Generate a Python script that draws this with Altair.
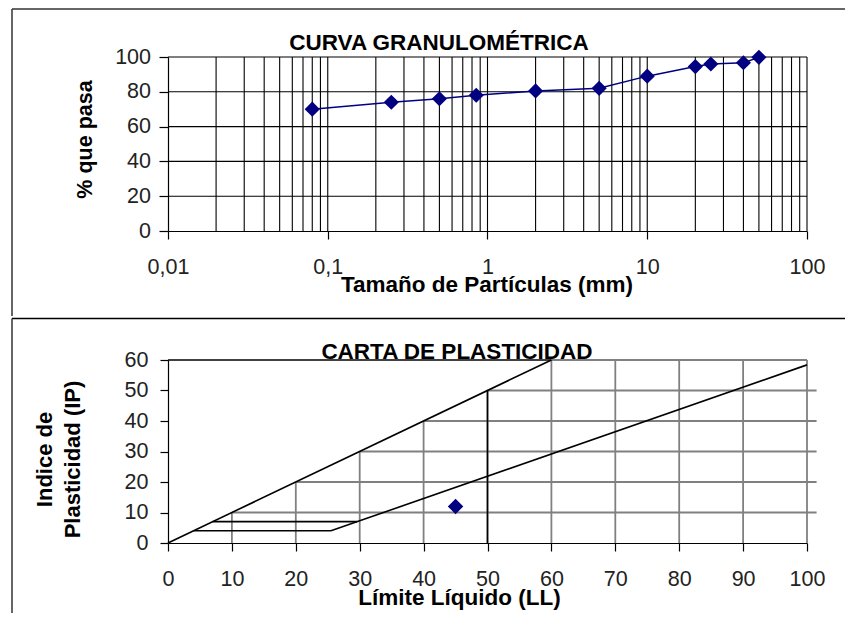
import altair as alt
import pandas as pd

# ---------------- data: curva granulométrica ----------------
SIZE_MM = [0.08, 0.25, 0.5, 0.85, 2, 5, 10, 20, 25, 40, 50]
PASS_PCT = [70, 74, 76, 78, 80.5, 82, 89, 94.5, 96, 96.7, 99.8]
TOP_X_TICKS = [0.01, 0.1, 1, 10, 100]
TOP_Y_TICKS = [0, 20, 40, 60, 80, 100]
TOP_DECADES = [0.01, 0.1, 1, 10]
TOP_MULTS = [1, 2, 3, 4, 5, 6, 7, 8, 9]
TOP_GRID_Y = [20, 40, 60, 80, 100]

# ---------------- data: carta de plasticidad ----------------
LL_SAMPLE = [45]
IP_SAMPLE = [12]
BOT_X_TICKS = [0, 10, 20, 30, 40, 50, 60, 70, 80, 90, 100]
BOT_Y_TICKS = [0, 10, 20, 30, 40, 50, 60]
# chart reference lines: (LL1, IP1) -> (LL2, IP2)
SEG_LL1 = [0, 25.5, 4, 7, 50, 0]
SEG_IP1 = [0, 4, 4, 7, 0, 60]
SEG_LL2 = [60, 100, 25.5, 29.6, 50, 60]
SEG_IP2 = [60, 58.4, 4, 7, 50, 60]
BOT_GRID_LL = [10, 20, 30, 40, 50, 60, 70, 80, 90, 100]
BOT_GRID_IP = [10, 20, 30, 40, 50, 60]

TITLE_TOP = "CURVA GRANULOMÉTRICA"
TITLE_BOT = "CARTA DE PLASTICIDAD"

FONT = "Liberation Sans"
NAVY = "#000080"
LBL = "#222222"

W1, H1 = 639, 174
W2, H2 = 639, 183

# ============ top chart ============
xs_top = alt.Scale(type="log", domain=[0.01, 100], nice=False)
ys_top = alt.Scale(domain=[0, 100], nice=False)

x_axis_top = alt.Axis(
    values=TOP_X_TICKS, labelExpr="replace(toString(datum.value), '.', ',')",
    grid=False, domainColor="black", domainWidth=1.2, tickColor="black",
    tickWidth=1.2, tickSize=8, labelFont=FONT, labelFontSize=21.5,
    labelColor=LBL, labelPadding=17.5, labelFlush=False, labelOverlap=False,
    title="Tamaño de Partículas (mm)", titleFont=FONT, titleFontSize=22.5,
    titleFontWeight="bold", titleColor="black", titleX=318.5, titleY=60,
    titleBaseline="alphabetic", titleAlign="center")
y_axis_top = alt.Axis(
    values=TOP_Y_TICKS, grid=False, domainColor="black", domainWidth=1.2,
    tickColor="black", tickWidth=1.2, tickSize=9, labelFont=FONT,
    labelFontSize=21.5, labelColor=LBL, labelPadding=8.5, labelFlush=False,
    labelOverlap=False, title="% que pasa", titleFont=FONT, titleFontSize=21.5,
    titleFontWeight="bold", titleColor="black", titleX=-77, titleY=82,
    titleAngle=270, titleBaseline="alphabetic", titleAlign="center")

grid_x_vals = [d * m for d in TOP_DECADES for m in TOP_MULTS][1:] + [100]
gv_top = alt.Chart(pd.DataFrame({"v": grid_x_vals})).mark_rule(
    color="black", strokeWidth=1.1).encode(
    x=alt.X("v:Q", scale=xs_top, axis=x_axis_top), y=alt.value(0), y2=alt.value(H1))
gh_top = alt.Chart(pd.DataFrame({"v": TOP_GRID_Y})).mark_rule(
    color="black", strokeWidth=1.1).encode(
    y=alt.Y("v:Q", scale=ys_top, axis=y_axis_top), x=alt.value(0), x2=alt.value(W1))

df_top = pd.DataFrame({"size": SIZE_MM, "pct": PASS_PCT})
line_top = alt.Chart(df_top).mark_line(color=NAVY, strokeWidth=1.5).encode(
    x=alt.X("size:Q", scale=xs_top, axis=x_axis_top),
    y=alt.Y("pct:Q", scale=ys_top, axis=y_axis_top))
pts_top = alt.Chart(df_top).mark_point(
    shape="diamond", filled=True, size=230, color=NAVY, opacity=1).encode(
    x=alt.X("size:Q", scale=xs_top, axis=x_axis_top),
    y=alt.Y("pct:Q", scale=ys_top, axis=y_axis_top))

title_top = alt.Chart(pd.DataFrame({"t": [TITLE_TOP]})).mark_text(
    font=FONT, fontSize=22.5, fontWeight="bold", align="center",
    baseline="alphabetic", color="black").encode(
    text="t:N", x=alt.value(271), y=alt.value(-7))

frame_df = pd.DataFrame({"k": [0]})
frame_top_l = alt.Chart(frame_df).mark_rule(color="#333333", strokeWidth=1.5).encode(
    x=alt.value(-156), y=alt.value(-48), y2=alt.value(259))
frame_top_t = alt.Chart(frame_df).mark_rule(color="#333333", strokeWidth=1.5).encode(
    x=alt.value(-156), x2=alt.value(677), y=alt.value(-48))

top = alt.layer(gv_top, gh_top, line_top, pts_top, title_top,
                frame_top_l, frame_top_t).properties(width=W1, height=H1)

# ============ bottom chart ============
xs_bot = alt.Scale(domain=[0, 100], nice=False)
ys_bot = alt.Scale(domain=[0, 60], nice=False)

x_axis_bot = alt.Axis(
    values=BOT_X_TICKS, grid=False, domainColor="black", domainWidth=1.2,
    tickColor="black", tickWidth=1.2, tickSize=8, labelFont=FONT,
    labelFontSize=21.5, labelColor=LBL, labelPadding=17.5, labelFlush=False,
    labelOverlap=False, title="Límite Líquido (LL)", titleFont=FONT,
    titleFontSize=22.5, titleFontWeight="bold", titleColor="black",
    titleX=291, titleY=61, titleBaseline="alphabetic", titleAlign="center")
y_axis_bot = alt.Axis(
    values=BOT_Y_TICKS, grid=False, domainColor="black", domainWidth=1.2,
    tickColor="black", tickWidth=1.2, tickSize=8, labelFont=FONT,
    labelFontSize=21.5, labelColor=LBL, labelPadding=12, labelFlush=False,
    labelOverlap=False, title=["Indice de", "Plasticidad (IP)"], titleFont=FONT,
    titleFontSize=22, titleFontWeight="bold", titleColor="black",
    titleX=-117, titleY=99, titleAngle=270, titleBaseline="alphabetic",
    titleAlign="center", titleLineHeight=28.5)

gv_bot_df = pd.DataFrame({"ll": BOT_GRID_LL, "y0": [0] * len(BOT_GRID_LL),
                          "y1": [min(v, 60) for v in BOT_GRID_LL]})
gv_bot = alt.Chart(gv_bot_df).mark_rule(color="#808080", strokeWidth=1.8).encode(
    x=alt.X("ll:Q", scale=xs_bot, axis=x_axis_bot),
    y=alt.Y("y0:Q", scale=ys_bot, axis=y_axis_bot), y2="y1")
gh_bot_df = pd.DataFrame({"ip": BOT_GRID_IP, "x0": BOT_GRID_IP,
                          "x1": [101.5 if v < 60 else 100 for v in BOT_GRID_IP]})
gh_bot = alt.Chart(gh_bot_df).mark_rule(color="#808080", strokeWidth=1.8).encode(
    y=alt.Y("ip:Q", scale=ys_bot, axis=y_axis_bot),
    x=alt.X("x0:Q", scale=xs_bot, axis=x_axis_bot), x2="x1")

seg_df = pd.DataFrame({"a": SEG_LL1, "b": SEG_IP1, "c": SEG_LL2, "d": SEG_IP2})
seg_bot = alt.Chart(seg_df).mark_rule(color="black", strokeWidth=1.6).encode(
    x=alt.X("a:Q", scale=xs_bot, axis=x_axis_bot),
    y=alt.Y("b:Q", scale=ys_bot, axis=y_axis_bot),
    x2="c", y2="d")

df_bot = pd.DataFrame({"ll": LL_SAMPLE, "ip": IP_SAMPLE})
pts_bot = alt.Chart(df_bot).mark_point(
    shape="diamond", filled=True, size=240, color=NAVY, opacity=1).encode(
    x=alt.X("ll:Q", scale=xs_bot, axis=x_axis_bot),
    y=alt.Y("ip:Q", scale=ys_bot, axis=y_axis_bot))

title_bot = alt.Chart(pd.DataFrame({"t": [TITLE_BOT]})).mark_text(
    font=FONT, fontSize=22.5, fontWeight="bold", align="center",
    baseline="alphabetic", color="black").encode(
    text="t:N", x=alt.value(289), y=alt.value(-1))

frame_bot_t = alt.Chart(frame_df).mark_rule(color="black", strokeWidth=1.5).encode(
    x=alt.value(-156), x2=alt.value(677), y=alt.value(-41.5))
frame_bot_l = alt.Chart(frame_df).mark_rule(color="#333333", strokeWidth=1.5).encode(
    x=alt.value(-156), y=alt.value(-41.5), y2=alt.value(253))

bottom = alt.layer(gv_bot, gh_bot, seg_bot, pts_bot, title_bot,
                   frame_bot_t, frame_bot_l).properties(width=W2, height=H2)

chart = alt.vconcat(top, bottom, spacing=0).properties(
    padding={"left": 3, "top": 0, "right": 0, "bottom": 0}
).configure_view(strokeWidth=0)

chart.save("out.html", embed_options={"renderer": "svg", "actions": False})
